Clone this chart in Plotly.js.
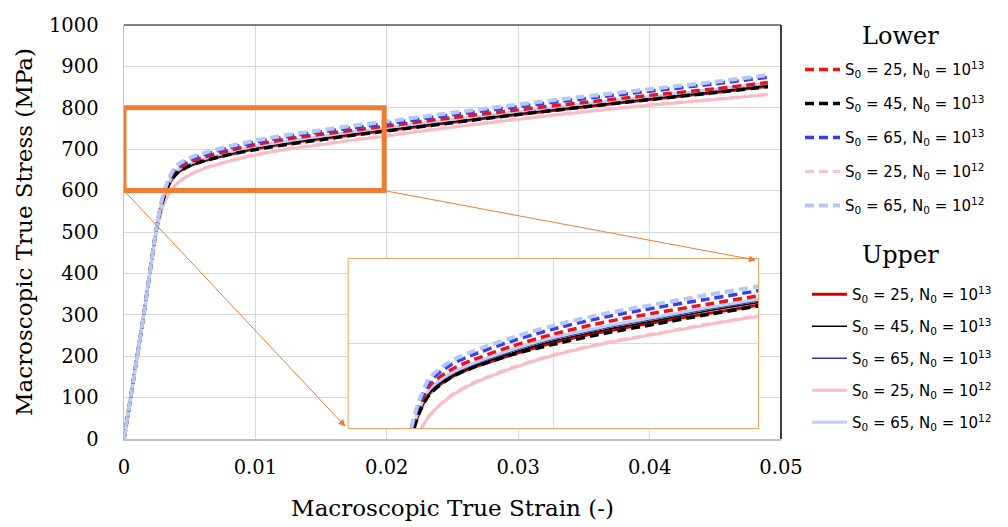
<!DOCTYPE html>
<html><head><meta charset="utf-8">
<script src="https://cdn.plot.ly/plotly-3.0.1.min.js"></script>
<style>html,body{margin:0;padding:0;background:#fff;}#chart{width:1008px;height:527px;}</style>
</head><body><div id="chart"></div>
<script>
const strain = [0, 0.0015, 0.0025, 0.003, 0.0035, 0.004, 0.005, 0.006, 0.008, 0.01, 0.0125, 0.015, 0.0175, 0.02, 0.025, 0.03, 0.035, 0.04, 0.045, 0.049];

// Lower (dashed)
const lower_S25_N13 = [0, 300, 514, 587, 626, 651, 669, 680, 697, 711, 725, 736, 746, 756, 776, 795, 813, 830, 846, 861];
const lower_S45_N13 = [0, 300, 512, 580, 620, 641, 660, 671, 687, 699, 712, 723, 734, 744, 764, 784, 802, 820, 837, 851];
const lower_S65_N13 = [0, 300, 515, 590, 631, 656, 675, 686, 703, 717, 731, 742, 752, 762, 783, 803, 822, 840, 858, 874];
const lower_S25_N12 = [0, 296, 503, 566, 597, 617, 639, 653, 672, 687, 701, 712, 723, 733, 754, 773, 791, 807, 821, 833];
const lower_S65_N12 = [0, 300, 515, 592, 635, 660, 679, 690, 707, 721, 735, 746, 757, 767, 788, 808, 827, 845, 863, 879];

// Upper (solid)
const upper_S25_N13 = [0, 300, 513, 582, 620, 642, 660, 671, 687, 701, 714, 725, 735, 745, 765, 784, 802, 820, 837, 852];
const upper_S45_N13 = [0, 300, 513, 583, 621, 643, 661, 672, 689, 703, 716, 727, 738, 748, 767, 786, 804, 822, 839, 854];
const upper_S65_N13 = [0, 300, 514, 584, 622, 645, 663, 674, 691, 705, 718, 729, 740, 750, 770, 789, 807, 825, 842, 857];
const upper_S25_N12 = [0, 296, 503, 565, 596, 616, 638, 652, 671, 686, 700, 711, 722, 732, 753, 772, 790, 806, 820, 832];
const upper_S65_N12 = [0, 300, 514, 585, 624, 647, 665, 676, 693, 707, 720, 731, 742, 752, 772, 791, 809, 827, 845, 860];

const labels = [
  'S<sub>0</sub> = 25, N<sub>0</sub> = 10<sup>13</sup>',
  'S<sub>0</sub> = 45, N<sub>0</sub> = 10<sup>13</sup>',
  'S<sub>0</sub> = 65, N<sub>0</sub> = 10<sup>13</sup>',
  'S<sub>0</sub> = 25, N<sub>0</sub> = 10<sup>12</sup>',
  'S<sub>0</sub> = 65, N<sub>0</sub> = 10<sup>12</sup>'
];
const groupTitles = ['Lower', 'Upper'];

const upperSeries = [upper_S25_N13, upper_S45_N13, upper_S65_N13, upper_S25_N12, upper_S65_N12];
const lowerSeries = [lower_S25_N13, lower_S45_N13, lower_S65_N13, lower_S25_N12, lower_S65_N12];

const upperStyle = [
  {color:'#d40000', width:3},
  {color:'#000000', width:1.5},
  {color:'#3535a8', width:1.5},
  {color:'#f8bcc4', width:3},
  {color:'#bcd0f5', width:3}
];
const lowerStyle = [
  {color:'#ec1515', width:3.5},
  {color:'#000000', width:3.5},
  {color:'#3b3bf0', width:3.5},
  {color:'#f6c4cb', width:3},
  {color:'#b3c9f2', width:4}
];
const DASH = '9px,5px';

// drawing order: pink dashed lowest, then solids, then other dashed
const drawOrder = [
  {set:'lower', i:3},
  {set:'upper', i:0}, {set:'upper', i:1}, {set:'upper', i:2}, {set:'upper', i:3}, {set:'upper', i:4},
  {set:'lower', i:0}, {set:'lower', i:1}, {set:'lower', i:2}, {set:'lower', i:4}
];

const traces = [];
['x', 'x2'].forEach(xa => {
  drawOrder.forEach(d => {
    const isLower = d.set === 'lower';
    const st = (isLower ? lowerStyle : upperStyle)[d.i];
    const ys = (isLower ? lowerSeries : upperSeries)[d.i];
    const line = {color: st.color, width: st.width, shape:'spline', smoothing:0.8};
    if (isLower) line.dash = DASH;
    const tr = {
      x: strain, y: ys, type:'scatter', mode:'lines', name: labels[d.i], line: line,
      xaxis: xa, yaxis: xa === 'x' ? 'y' : 'y2', hoverinfo:'skip'
    };
    if (xa === 'x') {
      tr.legend = isLower ? 'legend' : 'legend2';
      tr.legendgroup = d.set + d.i;
      tr.legendrank = d.i + 1;
    } else {
      tr.showlegend = false;
    }
    traces.push(tr);
  });
});

const serif = 'DejaVu Serif, serif';
const sans = 'DejaVu Sans, sans-serif';
const orange = '#ed7d31';

const layout = {
  width:1008, height:527,
  margin:{l:124, r:226, t:25, b:88},
  paper_bgcolor:'#ffffff', plot_bgcolor:'#ffffff',
  font:{family:serif, color:'#000000'},
  xaxis:{
    range:[0,0.05], dtick:0.01, tick0:0, showgrid:true, gridcolor:'#d9d9d9', gridwidth:1,
    zeroline:false, showline:true, linecolor:'#bfbfbf', linewidth:1.5, ticks:'',
    ticklabelstandoff:10,
    tickfont:{family:serif, size:19.5, color:'#000'},
    title:{text:'Macroscopic True Strain (-)', font:{family:serif, size:23, color:'#000'}, standoff:22},
    domain:[0,1], fixedrange:true
  },
  yaxis:{
    range:[0,1000], dtick:100, tick0:0, showgrid:true, gridcolor:'#d9d9d9', gridwidth:1,
    zeroline:false, showline:true, linecolor:'#bfbfbf', linewidth:1.5, ticks:'',
    ticklabelstandoff:20,
    tickfont:{family:serif, size:19.5, color:'#000'},
    title:{text:'Macroscopic True Stress (MPa)', font:{family:serif, size:23, color:'#000'}, standoff:10},
    domain:[0,1], fixedrange:true
  },
  xaxis2:{
    domain:[0.3404, 0.9666], anchor:'y2', range:[0,0.02], dtick:0.01, showticklabels:false,
    showgrid:true, gridcolor:'#d9d9d9', zeroline:false, showline:false, ticks:'', fixedrange:true
  },
  yaxis2:{
    domain:[0.0242, 0.437], anchor:'x2', range:[600,800], dtick:100, showticklabels:false,
    showgrid:true, gridcolor:'#d9d9d9', zeroline:false, showline:false, ticks:'', fixedrange:true
  },
  legend:{
    x:1.0274, xanchor:'left', y:0.932, yanchor:'top',
    bgcolor:'rgba(0,0,0,0)', borderwidth:0, tracegroupgap:11.5, itemwidth:35,
    traceorder:'grouped',
    font:{family:sans, size:15, color:'#000'}
  },
  legend2:{
    x:1.038, xanchor:'left', y:0.389, yanchor:'top',
    bgcolor:'rgba(0,0,0,0)', borderwidth:0, tracegroupgap:9.5, itemwidth:35,
    traceorder:'grouped',
    font:{family:sans, size:15, color:'#000'}
  },
  showlegend:true,
  shapes:[
    {type:'line', xref:'paper', yref:'paper', x0:0, x1:1, y0:1, y1:1, line:{color:'#000', width:1}, layer:'above'},
    {type:'line', xref:'paper', yref:'paper', x0:1, x1:1, y0:0, y1:1, line:{color:'#000', width:1.5}, layer:'above'},
    {type:'rect', xref:'x', yref:'y', x0:0, x1:0.0198, y0:600, y1:800, line:{color:orange, width:5}, layer:'above'},
    {type:'rect', xref:'x2', yref:'y2', x0:0, x1:0.02, y0:600, y1:800, line:{color:'#f0a060', width:2}, layer:'above'}
  ],
  annotations:[
    {x:0.01685, y:30, xref:'x', yref:'y', ax:0, ay:600, axref:'x', ayref:'y', text:'', showarrow:true,
     arrowhead:2, arrowsize:1.4, arrowwidth:1, arrowcolor:orange, standoff:0, startstandoff:0},
    {x:0.0481, y:432, xref:'x', yref:'y', ax:0.0198, ay:600, axref:'x', ayref:'y', text:'', showarrow:true,
     arrowhead:2, arrowsize:1.4, arrowwidth:1, arrowcolor:orange, standoff:0, startstandoff:0},
    {text:groupTitles[0], xref:'paper', yref:'paper', x:(902-124)/658, y:(439.3-36)/414, xanchor:'center', yanchor:'middle',
     showarrow:false, font:{family:serif, size:24, color:'#000'}},
    {text:groupTitles[1], xref:'paper', yref:'paper', x:(902-124)/658, y:(439.3-255)/414, xanchor:'center', yanchor:'middle',
     showarrow:false, font:{family:serif, size:24, color:'#000'}}
  ]
};

Plotly.newPlot('chart', traces, layout, {displayModeBar:false, staticPlot:true});
</script>
</body></html>
